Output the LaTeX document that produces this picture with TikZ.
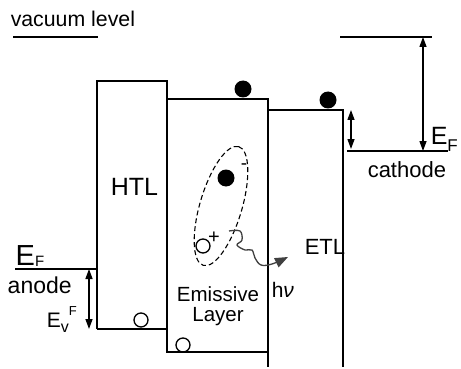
\documentclass[tikz,border=0pt]{standalone}
\usepackage{fontspec}
\setmainfont{Liberation Sans}
\usetikzlibrary{arrows.meta,shapes.geometric}
\definecolor{photon}{RGB}{64,64,64}

\begin{document}
\begin{tikzpicture}[x=1pt,y=-1pt,line width=1.5pt,
  lbl/.style={anchor=base west,inner sep=0pt},
  dbl/.style={{Triangle[length=10pt,width=7pt]}-{Triangle[length=10pt,width=7pt]},line width=1.3pt},
  electron/.style={circle,fill=black,inner sep=0pt,minimum size=17pt},
  hole/.style={circle,draw,line width=1.3pt,inner sep=0pt,minimum size=14pt}]
\useasboundingbox (0,0) rectangle (461,369);

% corners of the bands
\coordinate (htl-bl) at (97,329);
\coordinate (htl-tl) at (97,81);
\coordinate (htl-tr) at (167,81);
\coordinate (htl-br) at (167,329);
\coordinate (eml-tl) at (167,99);
\coordinate (eml-bl) at (167,352);
\coordinate (eml-tr) at (268,99);
\coordinate (eml-br) at (268,352);
\coordinate (etl-tl) at (268,110);
\coordinate (etl-bl) at (268,367);
\coordinate (etl-tr) at (343,110);
\coordinate (etl-br) at (343,367);

\draw (htl-bl) -- (htl-tl) -- (htl-tr) -- (eml-bl) -- (eml-br);
\draw (htl-bl) -- (htl-br);
\draw (eml-tl) -- (eml-tr) -- (etl-bl);
\draw (etl-tl) -- (etl-tr) -- (etl-br);

% vacuum level
\node[lbl,font=\fontsize{21.3}{24}\selectfont] (vaclbl) at (10,27) {vacuum level};
\coordinate (vac-a) at (13,37);
\coordinate (vac-b) at (98,37);
\draw (vac-a) -- (vac-b);

% anode
\coordinate (an-a) at (15,269);
\coordinate (an-b) at (97,269);
\coordinate (an-up) at (89,269);
\coordinate (an-dn) at (89,329);
\draw (an-a) -- (an-b);
\draw[dbl] (an-up) -- (an-dn);
\node[lbl,font=\fontsize{29}{32}\selectfont] (efa) at (15,265) {E\raisebox{-1pt}{\fontsize{15}{15}\selectfont F}};
\node[lbl,font=\fontsize{23}{26}\selectfont] (anode) at (7,293) {anode};
\node[lbl,font=\fontsize{21}{24}\selectfont] (evf) at (46,327) {E\raisebox{-5pt}{\fontsize{16}{16}\selectfont v}\raisebox{12pt}{\fontsize{13}{13}\selectfont F}};

% cathode
\coordinate (ca-top-a) at (340,37);
\coordinate (ca-top-b) at (432,37);
\coordinate (ca-a) at (347,151);
\coordinate (ca-b) at (448,151);
\coordinate (ca-up) at (423,37);
\coordinate (ca-dn) at (423,151);
\coordinate (off-up) at (351,110);
\coordinate (off-dn) at (351,149);
\draw (ca-top-a) -- (ca-top-b);
\draw (ca-a) -- (ca-b);
\draw[dbl] (ca-up) -- (ca-dn);
\draw[dbl] (off-up) -- (off-dn);
\node[lbl,font=\fontsize{25}{28}\selectfont] (efc) at (430,145) {E\raisebox{-6pt}{\fontsize{17}{17}\selectfont F}};
\node[lbl,font=\fontsize{22}{25}\selectfont] (cathode) at (367,177) {cathode};

% layer names
\node[lbl,font=\fontsize{25}{28}\selectfont] (htl) at (110,195) {HTL};
\node[anchor=base,inner sep=0pt,font=\fontsize{20.5}{23}\selectfont] (eml1) at (218,301) {Emissive};
\node[anchor=base,inner sep=0pt,font=\fontsize{20.5}{23}\selectfont] (eml2) at (218,321) {Layer};
\node[lbl,font=\fontsize{22}{25}\selectfont] (etl) at (304,254) {ETL};

% carriers
\node[electron] (e1) at (243,89) {};
\node[electron] (e2) at (328,100) {};
\node[electron] (e3) at (226,178) {};
\node[hole] (h1) at (141,320) {};
\node[hole] (h2) at (183,345) {};
\node[hole] (h3) at (203,246) {};
\node[font=\fontsize{20}{20}\selectfont,inner sep=0pt] (plus) at (214,238) {+};
\node[font=\fontsize{19}{19}\selectfont,inner sep=0pt] (minus) at (244,167) {-};
\node[draw,dashed,dash pattern=on 5pt off 3pt,ellipse,line width=1.1pt,inner sep=0pt,
  minimum width=124pt,minimum height=42pt,rotate=73.4] (exciton) at (221,206) {};

% emission
\coordinate (ph-start) at (229,231);
\coordinate (ph-end) at (288,257);
\draw[photon,line width=1.3pt,-{Triangle[length=13pt,width=10pt]}]
  plot[smooth,tension=0.6] coordinates {(ph-start) (240,231) (242,240) (237,245) (245,250) (252,250) (255,258) (261,265) (272,264) (ph-end)};
\node[lbl,font=\fontsize{21}{23}\selectfont] (hnu) at (271,297) {h\textit{ν}};
\end{tikzpicture}
\end{document}
